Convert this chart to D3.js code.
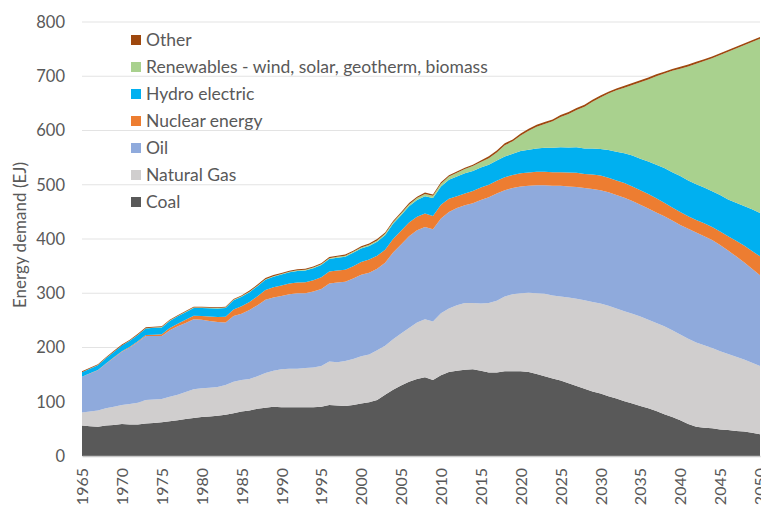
<!DOCTYPE html>
<html>
<head>
<meta charset="utf-8">
<script src="https://cdn.jsdelivr.net/npm/d3@7"></script>
<style>
  body { margin: 0; background: #fff; }
  text { font-family: Lato, "Open Sans", sans-serif; fill: #595959; }
</style>
</head>
<body>
<div id="chart"></div>
<script>
// chart size and plot box
const width = 761;
const height = 506;
const margin = {left: 82, right: 1, top: 22, bottom: 50};

// years 1965..2050
const years = d3.range(1965, 2051);

// energy demand per source (EJ)
const coal = [56,55,54,56,57,59,58,58,60,61,62,64,66,68,70,72,73,74,76,79,
  82,84,87,89,91,90,90,90,90,90,91,94,93,92,94,97,99,103,113,122,
  130,137,142,145,140,149,155,157,159,160,157,154,154,156,156,156,155,151,147,143,
  139,134,129,124,119,115,110,106,101,97,92,88,83,77,72,66,59,54,52,51,
  49,48,46,45,43,40];
const gas = [24,27,30,32,34,35,38,40,43,43,43,45,47,50,53,53,53,53,55,58,
  58,58,60,64,66,70,71,71,72,73,75,80,80,83,85,87,88,92,90,93,
  96,99,104,107,108,114,117,121,123,122,124,128,132,138,142,144,146,149,152,153,
  155,158,161,163,165,166,167,166,166,165,165,163,162,162,160,158,157,155,152,148,
  144,140,137,133,129,126];
const oil = [66,70,74,82,90,98,104,112,118,117,116,123,126,127,129,126,123,120,115,121,
  122,127,131,135,135,135,137,139,138,140,142,144,147,146,148,150,151,150,153,160,
  164,169,170,170,170,175,178,179,180,184,191,195,198,196,196,197,197,199,200,202,
  204,205,206,207,208,209,209,209,209,208,206,205,204,203,202,202,203,203,201,199,
  196,191,185,179,173,167];
const nuclear = [0.3,0.4,0.5,0.7,0.9,1,1.3,1.7,2.1,2.7,3.5,4,5,6,6.5,7,8,9,10.5,12,
  14,15,16.5,18,19,19.5,20,20,20.5,21,21.5,22,22,22.5,23,23.5,24,24,24,25,
  25,25.5,25,25,24.5,25,24,22,22,22.5,23,23,23.5,24,24,24,24.5,25,25,25,
  25,25.5,26,26,27,27,27,27,27,27,27,27,26,25,24,24,23,23,24,24,
  25,26,29,31,33,35];
const hydro = [8,8.5,9,9.5,10,10.5,11,11.5,12,12.5,12.5,13,13.5,14,14.5,15,15.5,16,16.5,17,
  17.5,18,18.5,19,19.5,20,20.5,21,21.5,22,22.5,23,23.5,24,24.5,25,25,26,27,28,
  29,30,31,32,33,34,35,36,37,37,37,37,37,38,39,41,42,43,44,45,
  46,46,47,47,48,49,51,53,55,57,58,60,62,64,65,66,66,66,66,66,
  67,68,70,73,77,80];
const renewables = [0.3,0.3,0.3,0.4,0.4,0.4,0.5,0.5,0.5,0.5,0.6,0.6,0.6,0.7,0.7,0.7,0.8,0.8,0.8,0.9,
  0.9,0.9,1,1,1,1,1.1,1.2,1.3,1.4,1.5,1.6,1.7,1.8,1.9,2,2.2,2.4,2.6,2.8,
  3,3.3,3.6,4,4,5,6,7,8,9,10,12,15,21,23,29,35,40,44,49,
  56,62,69,77,86,95,104,113,121,130,141,151,163,174,187,198,210,222,233,245,
  258,272,284,296,308,321];
const other = [1.5,1.5,1.5,1.5,1.5,1.5,1.5,1.5,1.5,1.5,1.5,1.5,1.5,1.5,1.5,1.5,1.5,1.5,1.5,1.5,
  1.5,2,2,2,2,2,2,2,2,2,2,2,2,2,2,2,2.5,2.5,2.5,2.5,
  2.5,2.5,2.5,2.5,2.5,2.5,2.5,2.5,2.5,2.5,2.5,3.5,3.5,3.5,3.5,3.5,3.5,3.5,3.5,3.5,
  3.5,3.5,3.5,3.5,3.5,3.5,3.5,3.5,3.5,3.5,3.5,3.5,3.5,3.5,3.5,3.5,3.5,3.5,3.5,3.5,
  3.5,3.5,3.5,3.5,3.5,3.5];

// series names (bottom to top) and their colours
const keys = ["coal", "gas", "oil", "nuclear", "hydro", "renewables", "other"];
const labels = ["Coal", "Natural Gas", "Oil", "Nuclear energy", "Hydro electric",
  "Renewables - wind, solar, geotherm, biomass", "Other"];
const colors = ["#595959", "#d0cece", "#8faadc", "#ed7d31", "#00b0f0", "#a9d18e", "#9e480e"];

const yTicks = [0, 100, 200, 300, 400, 500, 600, 700, 800];
const xTicks = d3.range(1965, 2051, 5);

// build rows for d3.stack
const series = {coal, gas, oil, nuclear, hydro, renewables, other};
const rows = years.map((yr, i) => {
  const r = {year: yr};
  keys.forEach(k => r[k] = series[k][i]);
  return r;
});

const svg = d3.select("#chart")
  .append("svg")
  .attr("width", width)
  .attr("height", height);

const xScale = d3.scaleLinear()
  .domain([1965, 2050])
  .range([margin.left, width - margin.right]);

const yScale = d3.scaleLinear()
  .domain([0, 800])
  .range([height - margin.bottom, margin.top]);

// horizontal gridlines
svg.append("g")
  .selectAll("line")
  .data(yTicks.slice(1))
  .enter()
  .append("line")
    .attr("x1", xScale(1965))
    .attr("x2", xScale(2050))
    .attr("y1", d => yScale(d))
    .attr("y2", d => yScale(d))
    .attr("stroke", "#e3e3e3")
    .attr("stroke-width", 1);

// stacked areas
const stacked = d3.stack().keys(keys)(rows);

const area = d3.area()
  .x(d => xScale(d.data.year))
  .y0(d => yScale(d[0]))
  .y1(d => yScale(d[1]));

svg.append("g")
  .selectAll("path")
  .data(stacked)
  .enter()
  .append("path")
    .attr("d", area)
    .attr("fill", (d, i) => colors[i]);

// y axis (labels only)
const yAxis = svg.append("g")
  .attr("transform", `translate(${margin.left}, 0)`)
  .call(d3.axisLeft(yScale).tickValues(yTicks).tickSize(0).tickPadding(17));
yAxis.select(".domain").remove();
yAxis.selectAll("text")
  .attr("font-size", "16.5px")
  .attr("font-family", "Lato, sans-serif")
  .attr("fill", "#595959");

// x axis with rotated year labels
const xAxis = svg.append("g")
  .attr("transform", `translate(0, ${height - margin.bottom})`)
  .call(d3.axisBottom(xScale).tickValues(xTicks).tickFormat(d3.format("d")).tickSize(0));
xAxis.select(".domain")
  .attr("stroke", "#c8c8c8")
  .attr("stroke-width", 1.5);
xAxis.selectAll("text")
  .attr("font-size", "16px")
  .attr("font-family", "Lato, sans-serif")
  .attr("fill", "#595959")
  .attr("text-anchor", "end")
  .attr("transform", "rotate(-90)")
  .attr("x", -12)
  .attr("y", 0)
  .attr("dy", "0.35em");

// y axis title
svg.append("text")
  .attr("transform", "translate(26, 235) rotate(-90)")
  .attr("text-anchor", "middle")
  .attr("font-size", "17px")
  .text("Energy demand (EJ)");

// legend, top entry is the last series
const legend = svg.append("g")
  .selectAll("g")
  .data(keys.map((k, i) => i).reverse())
  .enter()
  .append("g")
    .attr("transform", (d, j) => `translate(131, ${40 + j * 27})`);

legend.append("rect")
  .attr("x", 0)
  .attr("y", -5)
  .attr("width", 10)
  .attr("height", 10)
  .attr("fill", d => colors[d]);

legend.append("text")
  .attr("x", 15)
  .attr("y", 0)
  .attr("dy", "0.35em")
  .attr("font-size", "17.5px")
  .text(d => labels[d]);
</script>
</body>
</html>
